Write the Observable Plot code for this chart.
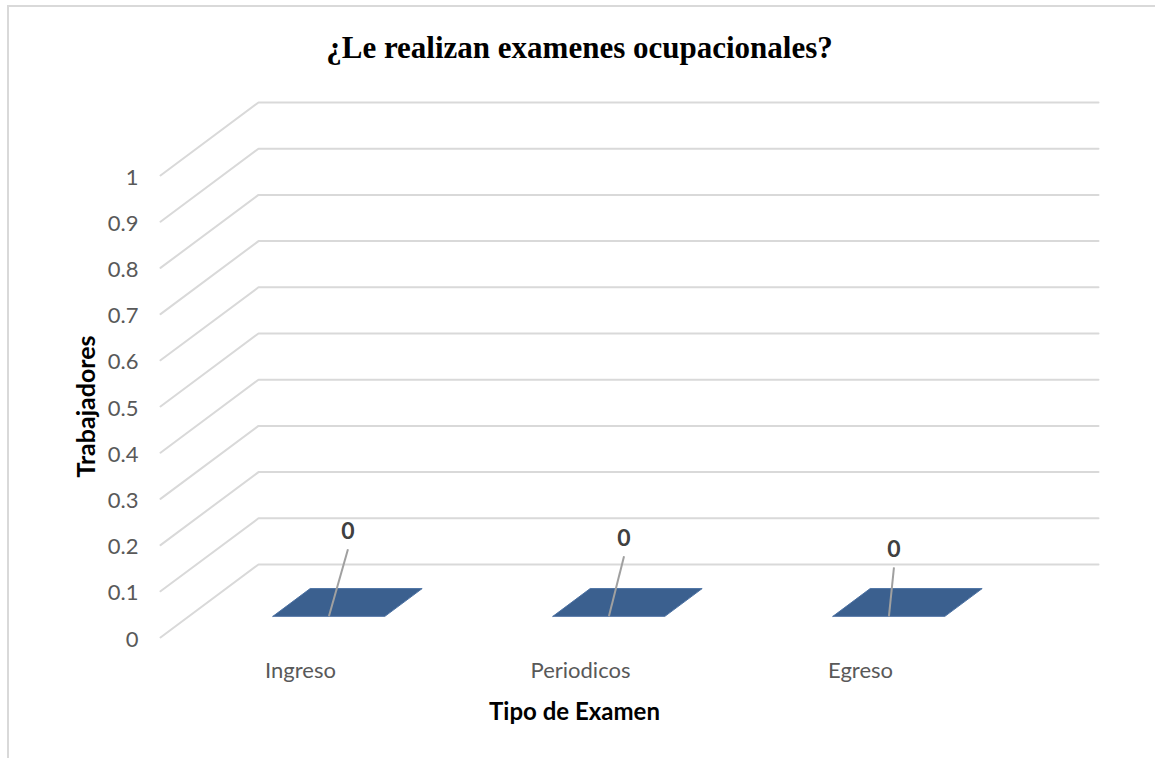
<!DOCTYPE html>
<html>
<head>
<meta charset="utf-8">
<script src="https://cdn.jsdelivr.net/npm/d3@7"></script>
<script src="https://cdn.jsdelivr.net/npm/@observablehq/plot@0.6"></script>
<style>
  html, body { margin: 0; padding: 0; background: #fff; }
  #wrap { position: relative; width: 1155px; height: 758px; overflow: hidden; }
  #frame { position: absolute; left: 7px; top: 5px; right: -10px; bottom: -10px;
           border-top: 2px solid #d9d9d9; border-left: 2px solid #d9d9d9; pointer-events: none; }
  #chart { position: absolute; left: 0; top: 0; }
</style>
</head>
<body>
<div id="wrap"><div id="chart"></div><div id="frame"></div></div>
<script>
// ---- data ----
const categories = ["Ingreso", "Periodicos", "Egreso"];
const values = [0, 0, 0];
const yTicks = [0, 0.1, 0.2, 0.3, 0.4, 0.5, 0.6, 0.7, 0.8, 0.9, 1];
const yTickLabels = ["0", "0.1", "0.2", "0.3", "0.4", "0.5", "0.6", "0.7", "0.8", "0.9", "1"];
const title = "¿Le realizan examenes ocupacionales?";
const xTitle = "Tipo de Examen";
const yTitle = "Trabajadores";

// ---- oblique projection parameters (depth z in [0,1]) ----
const KX = 0.35;    // x-units shift at full depth
const KY = 0.158;   // y-units shift at full depth
const proj = (x, v, z) => ({ X: x + z * KX, Y: v + z * KY });
const nCat = categories.length;

// gridlines: front-left point -> back-left -> back-right
const grid = yTicks.flatMap((t, k) => [
  { k, ...proj(0, t, 0) },
  { k, ...proj(0, t, 1) },
  { k, ...proj(nCat, t, 1) }
]);

// bars (top face of each column at its value)
const HALF = 0.2, Z0 = 0.29, Z1 = 0.67;
const bars = categories.flatMap((c, i) => {
  const cx = i + 0.5, v = values[i];
  return [
    { c, ...proj(cx - HALF, v, Z0) },
    { c, ...proj(cx + HALF, v, Z0) },
    { c, ...proj(cx + HALF, v, Z1) },
    { c, ...proj(cx - HALF, v, Z1) },
    { c, ...proj(cx - HALF, v, Z0) }
  ];
});

// data label placement (as dragged in the original), in axis units relative to the bar
const labelShift = [[0.068, 0.145], [0.054, 0.130], [0.018, 0.106]];
const labels = categories.map((c, i) => {
  const p = proj(i + 0.5 + labelShift[i][0], values[i] + labelShift[i][1], Z0);
  const b = proj(i + 0.5, values[i], Z0);
  return { c, text: String(values[i]), X: p.X, Y: p.Y, bX: b.X, bY: b.Y };
});

const font = "Lato, 'Open Sans', sans-serif";

const chart = Plot.plot({
  width: 1155,
  height: 758,
  marginLeft: 160,
  marginRight: 57,
  marginTop: 102,
  marginBottom: 121,
  style: { fontFamily: font, background: "transparent", overflow: "visible" },
  x: { type: "linear", domain: [0, nCat + KX], axis: null },
  y: { type: "linear", domain: [0, 1 + KY], axis: null },
  marks: [
    Plot.line(grid, { x: "X", y: "Y", z: "k", stroke: "#d9d9d9", strokeWidth: 2 }),
    Plot.text(yTicks, { x: 0, y: d => d, text: (d, i) => yTickLabels[i], textAnchor: "end", dx: -22, dy: 2,
      fontSize: 22, fill: "#595959" }),
    Plot.line(bars, { x: "X", y: "Y", z: "c", fill: "#3b608f", stroke: "#4d72a3", strokeWidth: 1 }),
    Plot.link(labels, { x1: "bX", y1: "bY", x2: "X", y2: "Y", stroke: "#a0a0a0", strokeWidth: 2 }),
    Plot.text(labels, { x: "X", y: "Y", text: "text", dy: -18, fontSize: 23, fontWeight: "bold", fill: "#404040" }),
    Plot.text(categories, { x: (d, i) => i + 0.5, y: 0, text: d => d, dy: 33, fontSize: 22, fill: "#595959" }),
    Plot.text([xTitle], { x: nCat / 2, y: 0, text: d => d, dy: 75, dx: -6, fontSize: 24, fontWeight: "bold", fill: "#000" }),
    Plot.text([yTitle], { x: 0, y: 0.5, text: d => d, dx: -74, rotate: -90, fontSize: 25, fontWeight: "bold", fill: "#000" }),
    Plot.text([title], { frameAnchor: "top", lineAnchor: "middle", text: d => d, dx: -50, dy: -54, fontSize: 31,
      fontWeight: "bold", fontFamily: "'Liberation Serif', 'Times New Roman', serif", fill: "#000" })
  ]
});
document.getElementById("chart").appendChild(chart);
</script>
</body>
</html>
